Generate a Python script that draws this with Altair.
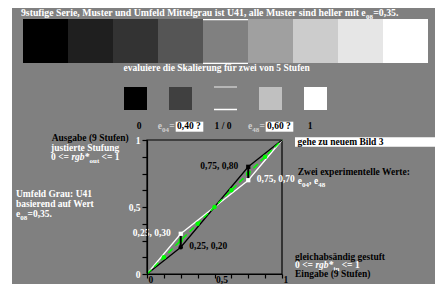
import altair as alt
import pandas as pd

W, H = 427, 276
FONT = "Liberation Serif"

# ---------------- data ----------------
series_idx = list(range(9))
series_colors = ["#000000", "#1f1f1f", "#333333", "#555555", "#808080",
                 "#a0a0a0", "#cccccc", "#e6e6e6", "#ffffff"]
test_idx = list(range(5))
test_colors = ["#000000", "#404040", "#808080", "#c0c0c0", "#ffffff"]

rgb_in = [0, 0.25, 0.5, 0.75, 1]
out_white = [0, 0.30, 0.5, 0.70, 1]
out_black = [0, 0.20, 0.5, 0.80, 1]
green_in = [0, 0.125, 0.25, 0.375, 0.5, 0.625, 0.75, 0.875, 1]
green_out = [0, 0.125, 0.25, 0.375, 0.5, 0.625, 0.75, 0.875, 1]
dot_in = [0.125, 0.25, 0.375, 0.5, 0.625, 0.75, 0.875]
dot_out = [0.125, 0.25, 0.375, 0.5, 0.625, 0.75, 0.875]
exp_in = [0.25, 0.75]
exp_lo = [0.20, 0.70]
exp_hi = [0.30, 0.80]
tick_vals = [0, 0.125, 0.25, 0.375, 0.5, 0.625, 0.75, 0.875, 1]

one = pd.DataFrame({"a": [1]})

XS = alt.Scale(domain=[0, 1], range=[139, 274], nice=False, zero=False)
YS = alt.Scale(domain=[0, 1], range=[266, 132], nice=False, zero=False)


def txt(s, x, y, color="white", size=9.5, align="left", style="normal", weight="bold"):
    return alt.Chart(one).mark_text(
        align=align, baseline="alphabetic", font=FONT, fontSize=size,
        fontWeight=weight, fontStyle=style, color=color
    ).encode(x=alt.value(x), y=alt.value(y), text=alt.value(s))


def box(x0, x1, y0, y1, color):
    return alt.Chart(one).mark_rect(color=color).encode(
        x=alt.value(x0), x2=alt.value(x1), y=alt.value(y0), y2=alt.value(y1))


layers = []
# gray background
layers.append(box(4, W, 0, H, "#808080"))

# top series of 9 swatches
sw = pd.DataFrame({"i": series_idx, "c": series_colors})
top_x = alt.X("i:O", scale=alt.Scale(domain=series_idx, range=[15, 420],
                                     paddingInner=0, paddingOuter=0), axis=None)
layers.append(alt.Chart(sw).mark_rect().encode(
    x=top_x, y=alt.value(11), y2=alt.value(55), color=alt.Color("c:N", scale=None)))
mid = sw[sw.i == 4]
layers.append(alt.Chart(mid).mark_rect(color="white").encode(
    x=top_x, y=alt.value(11), y2=alt.value(12.3)))
layers.append(alt.Chart(mid).mark_rect(color="white").encode(
    x=top_x, y=alt.value(54.7), y2=alt.value(56)))

# five test swatches
ts = pd.DataFrame({"k": test_idx, "c": test_colors})
tx = alt.X("k:O", scale=alt.Scale(domain=test_idx, range=[116, 319],
                                  paddingInner=0.489, paddingOuter=0), axis=None)
layers.append(alt.Chart(ts).mark_rect().encode(
    x=tx, y=alt.value(79), y2=alt.value(102), color=alt.Color("c:N", scale=None)))
tmid = ts[ts.k == 2]
layers.append(alt.Chart(tmid).mark_rect(color="#c8c8c8").encode(
    x=tx, y=alt.value(78.3), y2=alt.value(79.8)))
layers.append(alt.Chart(tmid).mark_rect(color="white").encode(
    x=tx, y=alt.value(100.8), y2=alt.value(102.2)))

# title
layers.append(txt("9stufige Serie, Muster und Umfeld Mittelgrau ist U41, alle Muster sind heller mit e",
                  357.7, 8, align="right", size=9.8))
layers.append(txt("08", 358, 10.5, size=7))
layers.append(txt("=0,35.", 365.2, 8, size=9.8))
layers.append(txt("evaluiere die Skalierung für zwei von 5 Stufen", 208.7, 63, align="center"))

# label row
layers.append(txt("0", 131, 121, color="black", align="center"))
layers.append(txt("e", 149.7, 121, color="#d0d0d0"))
layers.append(txt("04", 154, 123.5, color="#d0d0d0", size=7))
layers.append(txt("=", 161.2, 121, color="#d0d0d0"))
layers.append(box(167.7, 195.3, 113.7, 123.7, "white"))
layers.append(txt("0,40 ?", 169, 121, color="black"))
layers.append(txt("1 / 0", 215, 121, color="black", align="center"))
layers.append(txt("e", 240, 121, color="#d0d0d0"))
layers.append(txt("48", 244.3, 123.5, color="#d0d0d0", size=7))
layers.append(txt("=", 251.5, 121, color="#d0d0d0"))
layers.append(box(257.7, 285.3, 113.7, 123.7, "white"))
layers.append(txt("0,60 ?", 259, 121, color="black"))
layers.append(txt("1", 302, 121, color="black", align="center"))

# left block
layers.append(txt("Ausgabe (9 Stufen)", 43.7, 133, color="black"))
layers.append(txt("justierte Stufung", 43, 143))
layers.append(txt("0 <=", 43, 152))
layers.append(txt("rgb*", 63.4, 152, style="italic"))
layers.append(txt("out", 81.5, 154.5, size=7))
layers.append(txt("<= 1", 93.5, 152))
layers.append(txt("Umfeld Grau: U41", 8, 189))
layers.append(txt("basierend auf Wert", 8, 199))
layers.append(txt("e", 8, 209))
layers.append(txt("08", 12.3, 211.5, size=7))
layers.append(txt("=0,35.", 19.5, 209))

# right block
layers.append(box(287, W, 129.3, 138.7, "white"))
layers.append(txt("gehe zu neuem Bild 3", 289.5, 137, color="black"))
layers.append(txt("Zwei experimentelle Werte:", 289.7, 167, color="black"))
layers.append(txt("e", 289.7, 176))
layers.append(txt("04", 294, 178.5, size=7))
layers.append(txt(",", 301, 176))
layers.append(txt("e", 306, 176))
layers.append(txt("48", 310.3, 178.5, size=7))
layers.append(txt("gleichabsändig gestuft", 287, 252, color="black"))
layers.append(txt("0 <=", 287, 260))
layers.append(txt("rgb*", 307.4, 260, style="italic"))
layers.append(txt("in", 325.5, 262.5, size=7))
layers.append(txt("<= 1", 333.7, 260))
layers.append(txt("Eingabe (9 Stufen)", 287, 269, color="black"))

# ---------------- graph ----------------
lab_expr = "datum.value==0?'0':datum.value==0.5?'0,5':datum.value==1?'1':''"
x_axis = alt.Axis(values=tick_vals, labelExpr=lab_expr, orient="bottom", offset=-10,
                  domainColor="black", domainWidth=1.2, tickColor="black", tickSize=4,
                  tickWidth=1.2, labelColor="black", labelFont=FONT, labelFontWeight="bold",
                  labelFontSize=9.5, labelAlign="left", labelBaseline="alphabetic",
                  labelPadding=4, labelOffset=1, labelFlush=False, labelOverlap=False,
                  grid=False, title=None, zindex=1)
y_axis = alt.Axis(values=tick_vals, labelExpr=lab_expr, orient="left", offset=-139,
                  domainColor="black", domainWidth=1.2, tickColor="black", tickSize=5,
                  tickWidth=1.2, labelColor="white", labelFont=FONT, labelFontWeight="bold",
                  labelFontSize=9.5, labelAlign="right", labelBaseline="middle",
                  labelPadding=2, labelFlush=False, labelOverlap=False,
                  grid=False, title=None, zindex=1)

frame = pd.DataFrame({"x0": [0], "x1": [1], "y0": [0], "y1": [1]})
layers.append(alt.Chart(frame).mark_rect(fillOpacity=0, stroke="black", strokeWidth=1.2).encode(
    x=alt.X("x0:Q", scale=XS, axis=x_axis), x2="x1:Q",
    y=alt.Y("y0:Q", scale=YS, axis=y_axis), y2="y1:Q"))

def xq(f):
    return alt.X(f"{f}:Q", scale=XS, axis=None)

def yq(f):
    return alt.Y(f"{f}:Q", scale=YS, axis=None)

wdf = pd.DataFrame({"i": rgb_in, "o": out_white})
bdf = pd.DataFrame({"i": rgb_in, "o": out_black})
gdf = pd.DataFrame({"i": green_in, "o": green_out})
ddf = pd.DataFrame({"i": dot_in, "o": dot_out})
edf = pd.DataFrame({"i": exp_in, "lo": exp_lo, "hi": exp_hi})

layers.append(alt.Chart(wdf).mark_line(color="white", strokeWidth=1.3).encode(x=xq("i"), y=yq("o")))
layers.append(alt.Chart(bdf).mark_line(color="black", strokeWidth=1.3).encode(x=xq("i"), y=yq("o")))
layers.append(alt.Chart(gdf).mark_line(color="#00ff00", strokeWidth=1.5, strokeDash=[6, 4]).encode(
    x=xq("i"), y=yq("o")))
layers.append(alt.Chart(ddf).mark_point(filled=True, color="#00ff00", size=20, opacity=1).encode(
    x=xq("i"), y=yq("o")))
layers.append(alt.Chart(edf).mark_rule(color="black", strokeWidth=2).encode(
    x=xq("i"), y=yq("lo"), y2="hi:Q"))

# experiment markers
layers.append(alt.Chart(edf).mark_square(color="white", size=18, opacity=1).encode(x=xq("i"), y=yq("hi")).transform_filter("datum.i < 0.5"))
layers.append(alt.Chart(edf).mark_square(color="white", size=18, opacity=1).encode(x=xq("i"), y=yq("lo")).transform_filter("datum.i > 0.5"))
layers.append(alt.Chart(edf).mark_circle(color="black", size=20, opacity=1).encode(x=xq("i"), y=yq("lo")).transform_filter("datum.i < 0.5"))
layers.append(alt.Chart(edf).mark_square(color="black", size=18, opacity=1).encode(x=xq("i"), y=yq("hi")).transform_filter("datum.i > 0.5"))

# value labels
lab_txt = {"w_lo": "0,25, 0,30", "b_lo": "0,25, 0,20", "b_hi": "0,75, 0,80", "w_hi": "0,75, 0,70"}
def vlabel(s, xi, yo, color, align, dx, dy):
    d = pd.DataFrame({"i": [xi], "o": [yo]})
    return alt.Chart(d).mark_text(align=align, baseline="alphabetic", font=FONT, fontSize=9.5,
                                  fontWeight="bold", color=color, dx=dx, dy=dy).encode(
        x=xq("i"), y=yq("o"), text=alt.value(s))

layers.append(vlabel(lab_txt["w_lo"], exp_in[0], exp_hi[0], "white", "right", -10, 2.2))
layers.append(vlabel(lab_txt["b_lo"], exp_in[0], exp_lo[0], "black", "left", 8.5, 2))
layers.append(vlabel(lab_txt["b_hi"], exp_in[1], exp_hi[1], "black", "right", -10, 2.5))
layers.append(vlabel(lab_txt["w_hi"], exp_in[1], exp_lo[1], "white", "left", 8.5, 2))

chart = alt.layer(*layers).resolve_scale(x="independent", y="independent").properties(
    width=W, height=H, autosize=alt.AutoSizeParams(type="none"), padding=0,
    background="white"
).configure_view(strokeWidth=0)

chart.save("out.html", embed_options={"renderer": "svg", "actions": False})
